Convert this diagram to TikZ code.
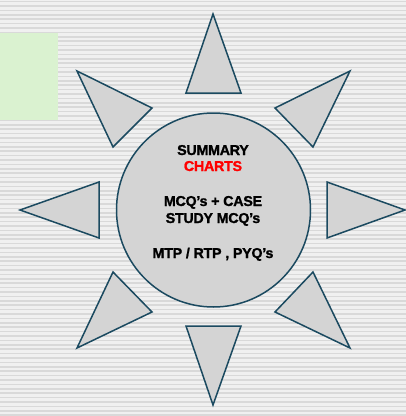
\documentclass[tikz,border=0pt]{standalone}
\usepackage{fontspec}
\setmainfont{Liberation Sans}
\newfontfamily\heavyfont[FakeBold=1.3,LetterSpace=-2]{Liberation Sans Bold}
\definecolor{bgc}{HTML}{F0F0F0}
\definecolor{stripe}{HTML}{D9D9D9}
\definecolor{edge}{HTML}{1B4A60}
\definecolor{tri}{HTML}{D4D4D4}
\definecolor{greenbox}{HTML}{DAF2D0}
\tikzset{
  ray/.style={draw=edge, fill=tri, line width=1.5pt, line join=miter},
  txt/.style={font=\heavyfont\fontsize{14.3}{16}\selectfont, anchor=base, inner sep=0pt},
}
\begin{document}
\begin{tikzpicture}[x=1pt,y=-1pt]
\useasboundingbox (0,0) rectangle (406,416);
\fill[bgc] (0,0) rectangle (406,416);
\foreach \k in {0,...,94} {
  \draw[stripe, line width=1.6pt] (0,{1.5+\k*4.4}) -- (406,{1.5+\k*4.4});
}
\fill[greenbox] (0,33) rectangle (58,120);
% rays
\draw[ray] (213,14) -- (241,93) -- (186,93) -- cycle;
\draw[ray] (213,405) -- (241,326) -- (186,326) -- cycle;
\draw[ray] (20,210) -- (99,182) -- (99,238) -- cycle;
\draw[ray] (405,210) -- (327,182) -- (327,238) -- cycle;
\draw[ray] (77,71) -- (152,108) -- (113,147) -- cycle;
\draw[ray] (350,71) -- (275,108) -- (313,147) -- cycle;
\draw[ray] (77,348) -- (152,312) -- (113,272) -- cycle;
\draw[ray] (350,348) -- (275,312) -- (313,272) -- cycle;
% circle
\node[circle, draw=edge, fill=tri, line width=1.5pt, minimum size=194pt, inner sep=0pt] (hub) at (213.5,210) {};
\node[txt] (l1) at (213,155) {SUMMARY};
\node[txt, text=red] (l2) at (213,171) {CHARTS};
\node[txt] (l3) at (213,206) {MCQ’s + CASE};
\node[txt] (l4) at (213,223) {STUDY MCQ’s};
\node[txt] (l5) at (213,258) {MTP / RTP , PYQ’s};
\end{tikzpicture}
\end{document}
